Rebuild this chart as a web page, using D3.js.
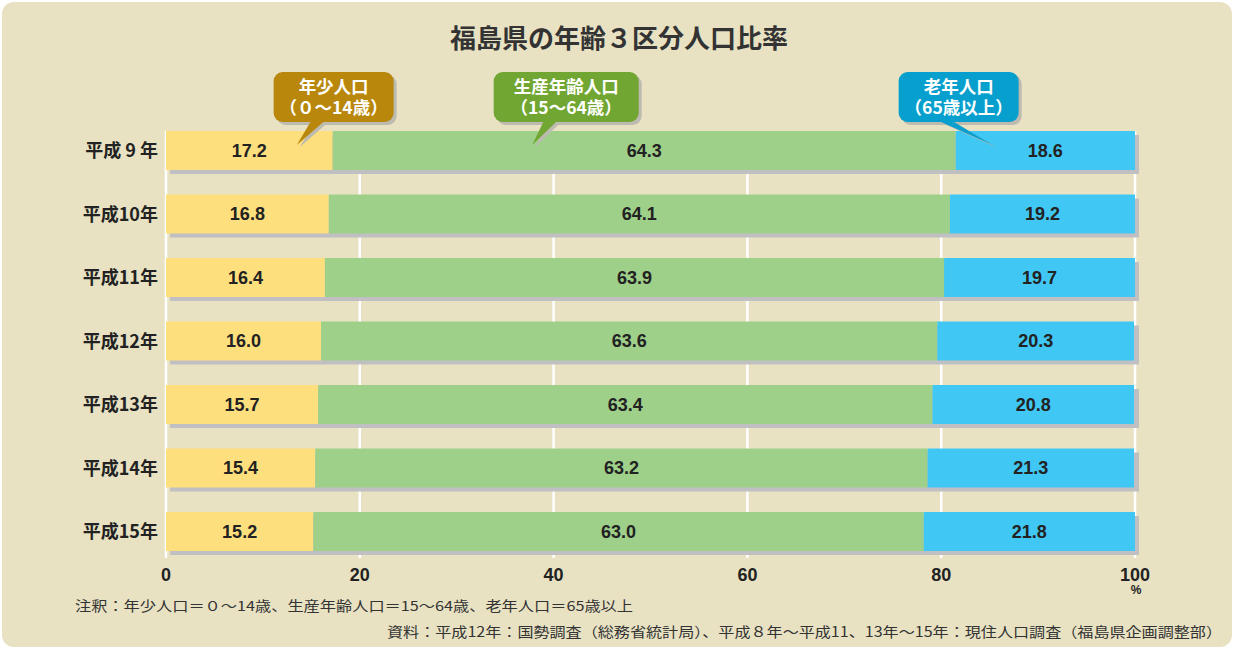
<!DOCTYPE html>
<html>
<head>
<meta charset="utf-8">
<script src="https://cdn.jsdelivr.net/npm/d3@7"></script>
<style>
  body { margin: 0; background: #fff; }
  svg { display: block; font-family: "Liberation Sans", "Noto Sans CJK JP", sans-serif; }
</style>
</head>
<body>
<div id="chart"></div>
<script>
// data
const years = ['平成 9 年', '平成10年', '平成11年', '平成12年', '平成13年', '平成14年', '平成15年'];
const young = [17.2, 16.8, 16.4, 16.0, 15.7, 15.4, 15.2];
const working = [64.3, 64.1, 63.9, 63.6, 63.4, 63.2, 63.0];
const old = [18.6, 19.2, 19.7, 20.3, 20.8, 21.3, 21.8];
const ticks = [0, 20, 40, 60, 80, 100];

const seriesColors = ['#fedf7e', '#9fd08a', '#41c7f3'];

// callouts: tail tip in data units, box centre in data units
const callouts = [
  { lines: ['年少人口', '（０～14歳）'], tip: 13.5, center: 17.3, fill: '#b8870c' },
  { lines: ['生産年齢人口', '（15～64歳）'], tip: 37.8, center: 41.3, fill: '#72a632' },
  { lines: ['老年人口', '（65歳以上）'], tip: 85.3, center: 81.8, fill: '#079fcd' },
];

const width = 1234;
const height = 649;
const margin = { top: 131, left: 166, right: 99, bottom: 92 };
const innerWidth = width - margin.left - margin.right;

const rows = years.map((y, i) => ({ year: y, values: [young[i], working[i], old[i]] }));

const xScale = d3.scaleLinear().domain([0, 100]).range([0, innerWidth]);
const yScale = d3.scaleBand()
  .domain(years)
  .range([0, 420])
  .paddingInner(0.386)
  .paddingOuter(0);

const svg = d3.select('#chart')
  .append('svg')
    .attr('width', width)
    .attr('height', height);

svg.append('rect')
  .attr('x', 2).attr('y', 2)
  .attr('width', width - 4).attr('height', height - 4)
  .attr('rx', 12)
  .attr('fill', '#e8e2c3');

svg.append('text')
  .attr('x', 619).attr('y', 48)
  .attr('text-anchor', 'middle')
  .attr('font-size', 26)
  .attr('font-weight', 'bold')
  .attr('font-family', '"Noto Sans CJK JP", sans-serif')
  .attr('fill', '#333')
  .text('福島県の年齢３区分人口比率');

const inner = svg.append('g')
  .attr('transform', `translate(${margin.left}, ${margin.top})`);

// grid lines
inner.selectAll('.grid')
    .data(ticks)
  .enter().append('line')
    .attr('class', 'grid')
    .attr('x1', d => xScale(d)).attr('x2', d => xScale(d))
    .attr('y1', 0).attr('y2', 427)
    .attr('stroke', '#fff')
    .attr('stroke-width', 2.5);

const rowG = inner.selectAll('.row')
    .data(rows)
  .enter().append('g')
    .attr('class', 'row')
    .attr('transform', d => `translate(0, ${yScale(d.year)})`);

const bh = yScale.bandwidth();

// shadow
rowG.append('rect')
  .attr('x', 4).attr('y', 4)
  .attr('width', xScale(100))
  .attr('height', bh)
  .attr('fill', '#c0bfc2');

rowG.each(function(d) {
  let acc = 0;
  const g = d3.select(this);
  d.values.forEach((v, j) => {
    const x0 = acc;
    const x1 = Math.min(acc + v, 100);
    acc += v;
    g.append('rect')
      .attr('x', xScale(x0))
      .attr('y', 0)
      .attr('width', xScale(x1) - xScale(x0))
      .attr('height', bh)
      .attr('fill', seriesColors[j]);
    g.append('text')
      .attr('x', (xScale(x0) + xScale(x1)) / 2)
      .attr('y', bh / 2 + 6.5)
      .attr('text-anchor', 'middle')
      .attr('font-size', 18)
      .attr('font-weight', 'bold')
      .attr('fill', '#222')
      .text(v.toFixed(1));
  });
});

// row labels
rowG.append('text')
  .attr('x', -8)
  .attr('y', bh / 2 + 7)
  .attr('text-anchor', 'end')
  .attr('font-size', 18)
  .attr('font-weight', 'bold')
  .attr('font-family', '"Noto Sans CJK JP", sans-serif')
  .attr('fill', '#222')
  .text(d => d.year);

// x axis labels
inner.selectAll('.tick-label')
    .data(ticks)
  .enter().append('text')
    .attr('class', 'tick-label')
    .attr('x', d => xScale(d))
    .attr('y', 450)
    .attr('text-anchor', 'middle')
    .attr('font-size', 18)
    .attr('font-weight', 'bold')
    .attr('fill', '#222')
    .text(d => d);

inner.append('text')
  .attr('x', xScale(100) + 1)
  .attr('y', 463)
  .attr('text-anchor', 'middle')
  .attr('font-size', 12)
  .attr('font-weight', 'bold')
  .attr('fill', '#222')
  .text('%');

// callouts
const boxW = d => d.lines[0].length > 4 ? 145 : 120;
callouts.forEach(c => {
  const w = boxW(c);
  const cx = xScale(c.center);
  const tx = xScale(c.tip);
  const top = 72 - margin.top;
  const bottom = 122 - margin.top;
  const tail = `M${cx - 22},${bottom - 2} L${tx},${14} L${cx - 8},${bottom - 2} Z`;
  const g = inner.append('g');
  // shadow
  g.append('rect')
    .attr('x', cx - w / 2 + 3).attr('y', top + 3)
    .attr('width', w).attr('height', bottom - top)
    .attr('rx', 9)
    .attr('fill', '#bdbab0');
  g.append('path')
    .attr('d', tail)
    .attr('transform', 'translate(3,2)')
    .attr('fill', '#bdbab0');
  g.append('rect')
    .attr('x', cx - w / 2).attr('y', top)
    .attr('width', w).attr('height', bottom - top)
    .attr('rx', 9)
    .attr('fill', c.fill);
  g.append('path')
    .attr('d', tail)
    .attr('fill', c.fill);
  c.lines.forEach((l, k) => {
    g.append('text')
      .attr('x', cx)
      .attr('y', top + 21 + k * 21)
      .attr('text-anchor', 'middle')
      .attr('font-size', 17.5)
      .attr('font-weight', 'bold')
      .attr('font-family', '"Noto Sans CJK JP", sans-serif')
      .attr('fill', '#fff')
      .text(l);
  });
});

// notes
svg.append('text')
  .attr('x', 75).attr('y', 611)
  .attr('font-size', 13.5)
  .attr('font-family', '"Noto Sans CJK JP", sans-serif')
  .attr('fill', '#333')
  .attr('textLength', 558)
  .attr('lengthAdjust', 'spacingAndGlyphs')
  .text('注釈：年少人口＝０～14歳、生産年齢人口＝15～64歳、老年人口＝65歳以上');

svg.append('text')
  .attr('x', 387).attr('y', 637)
  .attr('font-size', 14)
  .attr('font-family', '"Noto Sans CJK JP", sans-serif')
  .attr('fill', '#333')
  .attr('textLength', 835)
  .attr('lengthAdjust', 'spacingAndGlyphs')
  .text('資料：平成12年：国勢調査（総務省統計局）、平成８年～平成11、13年～15年：現住人口調査（福島県企画調整部）');
</script>
</body>
</html>
